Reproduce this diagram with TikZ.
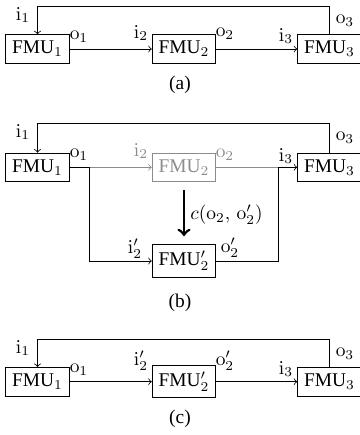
\documentclass[tikz,border=0pt]{standalone}
\usepackage[no-math]{fontspec}
\setmainfont{Liberation Serif}
\begin{document}
\begin{tikzpicture}[x=0.5155pt,y=-0.5155pt,>=to,
  fmu/.style={draw, inner sep=3.33pt, font=\normalsize},
  lbl/.style={inner sep=0pt},
  ghost/.style={black!45},
  bigarrow/.style={->, line width=1.4pt, shorten <=4.3pt, shorten >=4.3pt}]
\useasboundingbox (0,0) rectangle (360,435);
% ---------------- (a)
\node[fmu] (A1) at (37.5,49) {FMU$_1$};
\node[fmu] (A2) at (184,49) {FMU$_2$};
\node[fmu] (A3) at (329.5,49) {FMU$_3$};
\coordinate (Atop) at (0,6);
\draw[->] (A1.east) -- (A2.west);
\draw[->] (A2.east) -- (A3.west);
\draw[->] (A3.north) -- (A3.north |- Atop) -| (A1.north);
\node[lbl] (ai1) at (23,15) {$\mathrm{i}_1$};
\node[lbl] (ao1) at (79,37) {$\mathrm{o}_1$};
\node[lbl] (ai2) at (141,33) {$\mathrm{i}_2$};
\node[lbl] (ao2) at (225,34) {$\mathrm{o}_2$};
\node[lbl] (ai3) at (286,36) {$\mathrm{i}_3$};
\node[lbl] (ao3) at (345,21) {$\mathrm{o}_3$};
\node (capa) at (180,85) {(a)};
% ---------------- (b)
\node[fmu] (B1) at (37.5,167.3) {FMU$_1$};
\node[fmu, ghost] (B2) at (184,167.3) {FMU$_2$};
\node[fmu] (B3) at (329.5,167.3) {FMU$_3$};
\node[fmu] (B2p) at (184,261) {FMU$'_2$};
\coordinate (Btop) at (0,123.3);
\coordinate (bl) at (89.3,167.3);
\coordinate (br) at (278.3,167.3);
\draw (B1.east) -- (bl);
\draw[->, ghost] (bl) -- (B2.west);
\draw[ghost] (B2.east) -- (br);
\draw[->] (bl) |- (B2p.west);
\draw (B2p.east) -| (br);
\draw[->] (br) -- (B3.west);
\draw[->] (B3.north) -- (B3.north |- Btop) -| (B1.north);
\draw[bigarrow] (B2.south) -- (B2p.north);
\node[lbl] (bc) at (226.5,215) {$c(\mathrm{o}_2,\, \mathrm{o}'_2)$};
\node[lbl] (bi1) at (23,132) {$\mathrm{i}_1$};
\node[lbl] (bo1) at (79,155) {$\mathrm{o}_1$};
\node[lbl, ghost] (bi2) at (141,151) {$\mathrm{i}_2$};
\node[lbl, ghost] (bo2) at (225,155) {$\mathrm{o}_2$};
\node[lbl] (bi3) at (286,156) {$\mathrm{i}_3$};
\node[lbl] (bo3) at (345,138) {$\mathrm{o}_3$};
\node[lbl] (bi2p) at (135,249) {$\mathrm{i}'_2$};
\node[lbl] (bo2p) at (230,248) {$\mathrm{o}'_2$};
\node (capb) at (180,303) {(b)};
% ---------------- (c)
\node[fmu] (C1) at (37.5,381.7) {FMU$_1$};
\node[fmu] (C2) at (184,381.7) {FMU$'_2$};
\node[fmu] (C3) at (329.5,381.7) {FMU$_3$};
\coordinate (Ctop) at (0,339.3);
\draw[->] (C1.east) -- (C2.west);
\draw[->] (C2.east) -- (C3.west);
\draw[->] (C3.north) -- (C3.north |- Ctop) -| (C1.north);
\node[lbl] (ci1) at (23,348) {$\mathrm{i}_1$};
\node[lbl] (co1) at (79,370) {$\mathrm{o}_1$};
\node[lbl] (ci2) at (141,361) {$\mathrm{i}'_2$};
\node[lbl] (co2) at (225,361) {$\mathrm{o}'_2$};
\node[lbl] (ci3) at (286,369) {$\mathrm{i}_3$};
\node[lbl] (co3) at (345,354) {$\mathrm{o}_3$};
\node (capc) at (180,418.5) {(c)};
\end{tikzpicture}
\end{document}
